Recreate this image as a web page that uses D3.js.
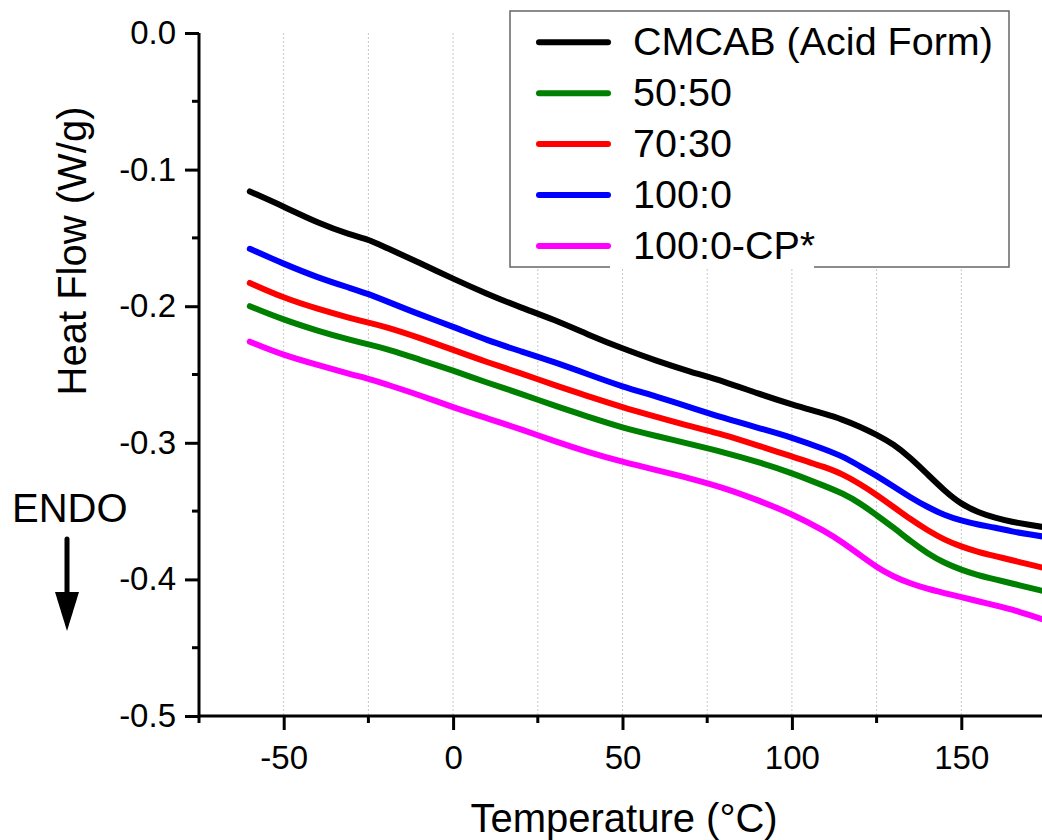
<!DOCTYPE html>
<html>
<head>
<meta charset="utf-8">
<script src="https://cdn.jsdelivr.net/npm/d3@7"></script>
<style>
  body { margin: 0; background: #fff; }
  svg { display: block; font-family: 'Liberation Sans', Arial, sans-serif; }
</style>
</head>
<body>
<svg id="chart" width="1042" height="840"></svg>
<script>
const temps = [-60, -50, -40, -30, -25, -20, -10, 0, 10, 20, 30, 40, 50, 60, 70, 80, 90, 100, 110, 115, 120, 125, 130, 135, 140, 145, 150, 155, 160, 165, 170, 175];

const cmcab = [-0.116, -0.127, -0.139, -0.148, -0.151, -0.157, -0.168, -0.180, -0.191, -0.201, -0.210, -0.221, -0.231, -0.240, -0.248, -0.255, -0.264, -0.272, -0.279, -0.283, -0.288, -0.294, -0.301, -0.311, -0.323, -0.335, -0.345, -0.351, -0.355, -0.358, -0.360, -0.362];
const blend5050 = [-0.200, -0.210, -0.218, -0.225, -0.228, -0.231, -0.239, -0.247, -0.256, -0.264, -0.273, -0.281, -0.289, -0.295, -0.301, -0.307, -0.314, -0.322, -0.332, -0.337, -0.344, -0.353, -0.362, -0.372, -0.381, -0.388, -0.393, -0.397, -0.400, -0.403, -0.406, -0.409];
const blend7030 = [-0.183, -0.194, -0.202, -0.209, -0.212, -0.215, -0.223, -0.232, -0.241, -0.249, -0.258, -0.266, -0.274, -0.281, -0.288, -0.294, -0.302, -0.310, -0.318, -0.323, -0.330, -0.338, -0.347, -0.356, -0.364, -0.371, -0.376, -0.380, -0.383, -0.386, -0.389, -0.392];
const blend1000 = [-0.158, -0.169, -0.179, -0.187, -0.191, -0.196, -0.206, -0.215, -0.225, -0.233, -0.241, -0.250, -0.259, -0.266, -0.274, -0.282, -0.289, -0.296, -0.305, -0.310, -0.317, -0.324, -0.332, -0.340, -0.347, -0.353, -0.357, -0.360, -0.362, -0.365, -0.367, -0.369];
const blend1000cp = [-0.226, -0.236, -0.243, -0.250, -0.253, -0.257, -0.265, -0.274, -0.282, -0.290, -0.299, -0.307, -0.314, -0.320, -0.326, -0.333, -0.342, -0.352, -0.365, -0.373, -0.382, -0.391, -0.398, -0.403, -0.407, -0.410, -0.413, -0.416, -0.419, -0.422, -0.426, -0.430];

const seriesNames = ['CMCAB (Acid Form)', '50:50', '70:30', '100:0', '100:0-CP*'];
const seriesValues = [cmcab, blend5050, blend7030, blend1000, blend1000cp];
const seriesColors = ['#000000', '#008000', '#ff0000', '#0000ff', '#ff00ff'];
// draw order: back to front like the original
const drawOrder = [4, 1, 2, 3, 0];

const xTicks = [-50, 0, 50, 100, 150];
const xMinor = [-75, -25, 25, 75, 125, 175];
const yTicks = [0, -0.1, -0.2, -0.3, -0.4, -0.5];
const yMinor = [-0.05, -0.15, -0.25, -0.35, -0.45];

const m = { left: 199, top: 33, right: 1046, bottom: 716 };
const font = 'Liberation Sans, Arial, sans-serif';

const svg = d3.select('#chart');

const x = d3.scaleLinear().domain([-75, 175]).range([m.left, m.right]);
const y = d3.scaleLinear().domain([-0.5, 0]).range([m.bottom, m.top]);

// plain hyphen minus, like the original
const hyphen = f => d => f(d).replace('\u2212', '-');

// dotted vertical grid
svg.append('g')
  .selectAll('line')
  .data(d3.range(-50, 176, 25))
  .join('line')
  .attr('x1', d => x(d)).attr('x2', d => x(d))
  .attr('y1', m.top).attr('y2', m.bottom)
  .attr('stroke', '#c8c8c8')
  .attr('stroke-width', 1)
  .attr('stroke-dasharray', '2,2');

// curves
const line = d3.line()
  .x(d => x(d[0]))
  .y(d => y(d[1]))
  .curve(d3.curveBasis);

svg.append('g')
  .selectAll('path')
  .data(drawOrder)
  .join('path')
  .attr('d', i => line(temps.map((t, k) => [t, seriesValues[i][k]])))
  .attr('fill', 'none')
  .attr('stroke', i => seriesColors[i])
  .attr('stroke-width', 6)
  .attr('stroke-linecap', 'round')
  .attr('stroke-linejoin', 'round');

// axes
const xAxis = svg.append('g')
  .attr('transform', `translate(0,${m.bottom})`)
  .call(d3.axisBottom(x).tickValues(xTicks).tickSize(14).tickPadding(16).tickFormat(hyphen(d3.format('d'))));
xAxis.append('g').selectAll('line')
  .data(xMinor)
  .join('line')
  .attr('x1', d => x(d)).attr('x2', d => x(d))
  .attr('y1', 0).attr('y2', 7)
  .attr('stroke', '#000').attr('stroke-width', 3);

const yAxis = svg.append('g')
  .attr('transform', `translate(${m.left},0)`)
  .call(d3.axisLeft(y).tickValues(yTicks).tickSize(14).tickPadding(9).tickFormat(hyphen(d3.format('.1f'))));
yAxis.append('g').selectAll('line')
  .data(yMinor)
  .join('line')
  .attr('y1', d => y(d)).attr('y2', d => y(d))
  .attr('x1', 0).attr('x2', -7)
  .attr('stroke', '#000').attr('stroke-width', 3);

svg.selectAll('g').attr('font-family', font);
svg.selectAll('.domain').attr('stroke', '#000').attr('stroke-width', 3);
svg.selectAll('.tick line').attr('stroke', '#000').attr('stroke-width', 3);
svg.selectAll('.tick text')
  .attr('font-size', 33)
  .attr('fill', '#000');
xAxis.select('.domain').attr('d', `M${m.left},0H${m.right}`);
yAxis.select('.domain').attr('d', `M0,${m.top}V${m.bottom}`);

// axis titles
svg.append('text')
  .attr('x', 624).attr('y', 832)
  .attr('text-anchor', 'middle')
  .attr('font-family', font)
  .attr('font-size', 40)
  .text('Temperature (°C)');

svg.append('text')
  .attr('transform', 'translate(86,251) rotate(-90)')
  .attr('text-anchor', 'middle')
  .attr('font-family', font)
  .attr('font-size', 40)
  .text('Heat Flow (W/g)');

// ENDO marker
svg.append('text')
  .attr('x', 12).attr('y', 522)
  .attr('font-family', font)
  .attr('font-size', 40)
  .text('ENDO');
svg.append('line')
  .attr('x1', 67).attr('x2', 67)
  .attr('y1', 539).attr('y2', 598)
  .attr('stroke', '#000').attr('stroke-width', 5)
  .attr('stroke-linecap', 'round');
svg.append('path')
  .attr('d', 'M55,592 L79,592 L67,631 Z')
  .attr('fill', '#000');

// legend
const legend = svg.append('g').attr('font-family', font);
legend.append('rect')
  .attr('x', 510).attr('y', 11)
  .attr('width', 499).attr('height', 256)
  .attr('fill', '#fff')
  .attr('stroke', '#666').attr('stroke-width', 1.5);

const rows = legend.selectAll('g.row')
  .data(seriesNames)
  .join('g')
  .attr('class', 'row')
  .attr('transform', (d, i) => `translate(0,${42.3 + i * 50.9})`);

rows.append('line')
  .attr('x1', 539).attr('x2', 608)
  .attr('stroke', (d, i) => seriesColors[i])
  .attr('stroke-width', 6)
  .attr('stroke-linecap', 'round');

// the last label's white box cuts the frame in the original
legend.append('rect')
  .attr('x', 610).attr('y', 263)
  .attr('width', 204).attr('height', 6)
  .attr('fill', '#fff');

rows.append('text')
  .attr('x', 633).attr('y', 13)
  .attr('font-size', 39.5)
  .text(d => d);
</script>
</body>
</html>
